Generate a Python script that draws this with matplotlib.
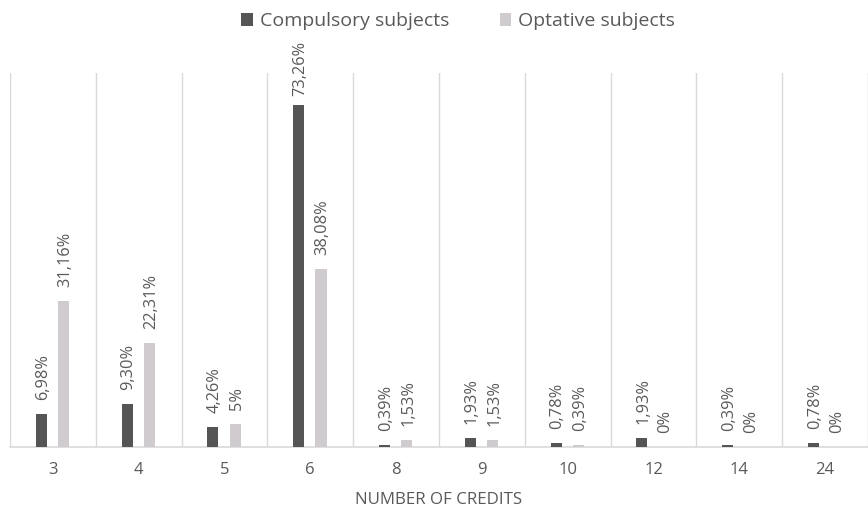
import matplotlib.pyplot as plt
import numpy as np

plt.rcParams['font.family'] = ['Open Sans', 'DejaVu Sans']

credits = ['3', '4', '5', '6', '8', '9', '10', '12', '14', '24']
compulsory = [6.98, 9.30, 4.26, 73.26, 0.39, 1.93, 0.78, 1.93, 0.39, 0.78]
optative = [31.16, 22.31, 5, 38.08, 1.53, 1.53, 0.39, 0, 0, 0]
comp_labels = ['6,98%', '9,30%', '4,26%', '73,26%', '0,39%', '1,93%', '0,78%', '1,93%', '0,39%', '0,78%']
opt_labels = ['31,16%', '22,31%', '5%', '38,08%', '1,53%', '1,53%', '0,39%', '0%', '0%', '0%']

dark = '#555555'
light = '#cfcbce'
txt = '#595959'

fig = plt.figure(figsize=(8.68, 5.09), dpi=100)
ax = fig.add_axes([10 / 868, 1 - 447 / 509, 858 / 868, 374 / 509])

x = np.arange(len(credits))
w = 0.13
b1 = ax.bar(x - 0.135, compulsory, w, color=dark, label='Compulsory subjects', zorder=3)
b2 = ax.bar(x + 0.125, optative, w, color=light, label='Optative subjects', zorder=3)


def put_labels(bars, labels):
    for rect, lab in zip(bars, labels):
        h = rect.get_height()
        # label on the tallest bar is pushed down so it stays inside the chart
        off = 6 if h > 70 else 10
        ax.annotate(lab, (rect.get_x() + rect.get_width() / 2, h),
                    xytext=(1, off), textcoords='offset points', rotation=90,
                    ha='center', va='bottom', fontsize=11.8, color=txt)


put_labels(b1, comp_labels)
put_labels(b2, opt_labels)

# category separators
for xv in np.arange(-0.5, len(credits), 1):
    ax.axvline(xv, color='#d9d9d9', lw=1, zorder=1)

ax.set_xlim(-0.5, len(credits) - 0.5)
ax.set_ylim(0, 80)
ax.set_xticks(x)
ax.set_xticklabels(credits, fontsize=12, color=txt)
ax.tick_params(axis='x', length=0, pad=11)
ax.set_yticks([])
for s in ['top', 'left', 'right']:
    ax.spines[s].set_visible(False)
ax.spines['bottom'].set_color('#d9d9d9')
ax.spines['bottom'].set_linewidth(1.2)
ax.set_xlabel('NUMBER OF CREDITS', fontsize=12.2, color=txt, labelpad=10)

fig.legend(loc='upper center', bbox_to_anchor=(0.528, 1.01), ncol=2, frameon=False,
           fontsize=14, handlelength=0.6, handleheight=0.6, columnspacing=2.6,
           handletextpad=0.35, labelcolor=txt)

fig.savefig('out.png', dpi=100)
